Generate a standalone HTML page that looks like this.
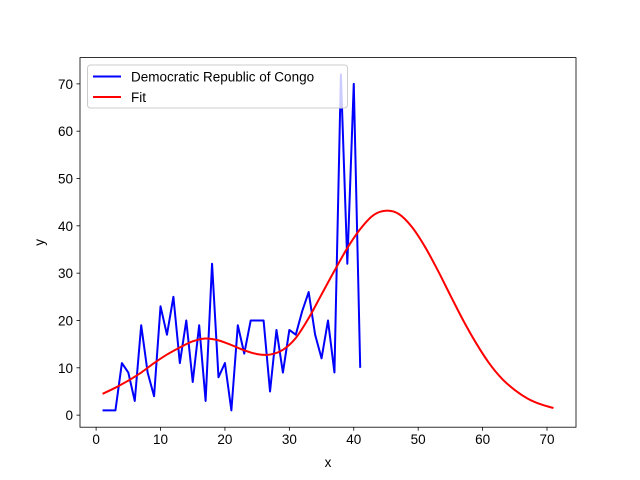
<!DOCTYPE html>
<html><head><meta charset="utf-8"><style>body{margin:0;background:#fff}svg{display:block}</style></head>
<body>
<svg id="chart" width="640" height="480" xmlns="http://www.w3.org/2000/svg" font-family="Liberation Sans, DejaVu Sans, sans-serif">
<rect width="640" height="480" fill="#fff"/>
<g id="plot"></g>
</svg>
<script>
const blueX = [1,2,3,4,5,6,7,8,9,10,11,12,13,14,15,16,17,18,19,20,21,22,23,24,25,26,27,28,29,30,31,32,33,34,35,36,37,38,39,40,41];
const blueY = [1,1,1,11,9,3,19,9,4,23,17,25,11,20,7,19,3,32,8,11,1,19,13,20,20,20,5,18,9,18,17,22,26,17,12,20,9,72,32,70,10];
const fitX = [1,3,5,7,9,11,13,15,17,19,21,23,25,27,29,31,33,35,37,39,41,43,45,47,49,51,53,55,57,59,61,63,65,67,69,71];
const fitY = [4.5,5.8,7.3,9,11,12.8,14.3,15.6,16.2,15.8,14.8,13.7,12.9,12.8,13.8,16.3,20.5,25.5,30.5,35.3,39.3,42.2,43.2,42.5,39.8,35.7,30.7,25.3,20,15.2,11,7.7,5.3,3.5,2.3,1.5];
const xTicks = [0,10,20,30,40,50,60,70];
const yTicks = [0,10,20,30,40,50,60,70];
const L=80,R=576,T=57.6,B=427.2;
const xmin=-2.5,xmax=74.5,ymin=-2.55,ymax=75.55;
const sx=v=>L+(v-xmin)/(xmax-xmin)*(R-L);
const sy=v=>B-(v-ymin)/(ymax-ymin)*(B-T);
const NS="http://www.w3.org/2000/svg";
const g=document.getElementById('plot');
function mk(t,a,txt){const e=document.createElementNS(NS,t);for(const k in a)e.setAttribute(k,a[k]);if(txt!==undefined)e.textContent=txt;g.appendChild(e);return e;}
function smooth(pts){let d='M'+pts[0][0]+','+pts[0][1];
 for(let i=0;i<pts.length-1;i++){const p0=pts[Math.max(i-1,0)],p1=pts[i],p2=pts[i+1],p3=pts[Math.min(i+2,pts.length-1)];
  const c1=[p1[0]+(p2[0]-p0[0])/6,p1[1]+(p2[1]-p0[1])/6],c2=[p2[0]-(p3[0]-p1[0])/6,p2[1]-(p3[1]-p1[1])/6];
  d+=' C'+c1.join(',')+' '+c2.join(',')+' '+p2.join(',');}
 return d;}
xTicks.forEach(v=>{const x=sx(v);
 const t=mk('line',{x1:x,x2:x,y1:B,y2:B+3.5,stroke:'#000','stroke-width':0.8});
 
 
 const l=mk('text',{x:x,y:B+17,'font-size':'13.5','text-anchor':'middle'},v);
 
 });
yTicks.forEach(v=>{const y=sy(v);
 const t=mk('line',{x1:L-3.5,x2:L,y1:y,y2:y,stroke:'#000','stroke-width':0.8});
 
 
 const l=mk('text',{x:L-7,y:y+5,'font-size':'13.5','text-anchor':'end'},v);
 
 });
const pb=mk('polyline',{points:blueX.map((x,i)=>sx(x)+','+sy(blueY[i])).join(' '),fill:'none',stroke:'#0000ff','stroke-width':2,'stroke-linejoin':'round'});


const pf=mk('path',{d:smooth(fitX.map((x,i)=>[sx(x),sy(fitY[i])])),fill:'none',stroke:'#ff0000','stroke-width':2,'stroke-linejoin':'round'});


const fr=mk('rect',{x:L,y:T,width:R-L,height:B-T,fill:'none',stroke:'#000','stroke-width':0.8});


const xt=mk('text',{x:(L+R)/2,y:467,'font-size':'13.5','text-anchor':'middle'},'x');


const yt=mk('text',{x:44,y:(T+B)/2,'font-size':'13.5','text-anchor':'middle',transform:'rotate(-90 44 '+((T+B)/2)+')'},'y');


const lg=mk('rect',{x:87.5,y:65,width:260,height:43,rx:3,fill:'#fff','fill-opacity':0.8,stroke:'#ccc','stroke-width':1});


const l1=mk('line',{x1:93,x2:121,y1:76.5,y2:76.5,stroke:'#0000ff','stroke-width':2});


const t1=mk('text',{x:131,y:81.5,'font-size':'13.5'},'Democratic Republic of Congo');


const l2=mk('line',{x1:93,x2:121,y1:97,y2:97,stroke:'#ff0000','stroke-width':2});


const t2=mk('text',{x:131,y:102,'font-size':'13.5'},'Fit');


</script>
</body></html>
